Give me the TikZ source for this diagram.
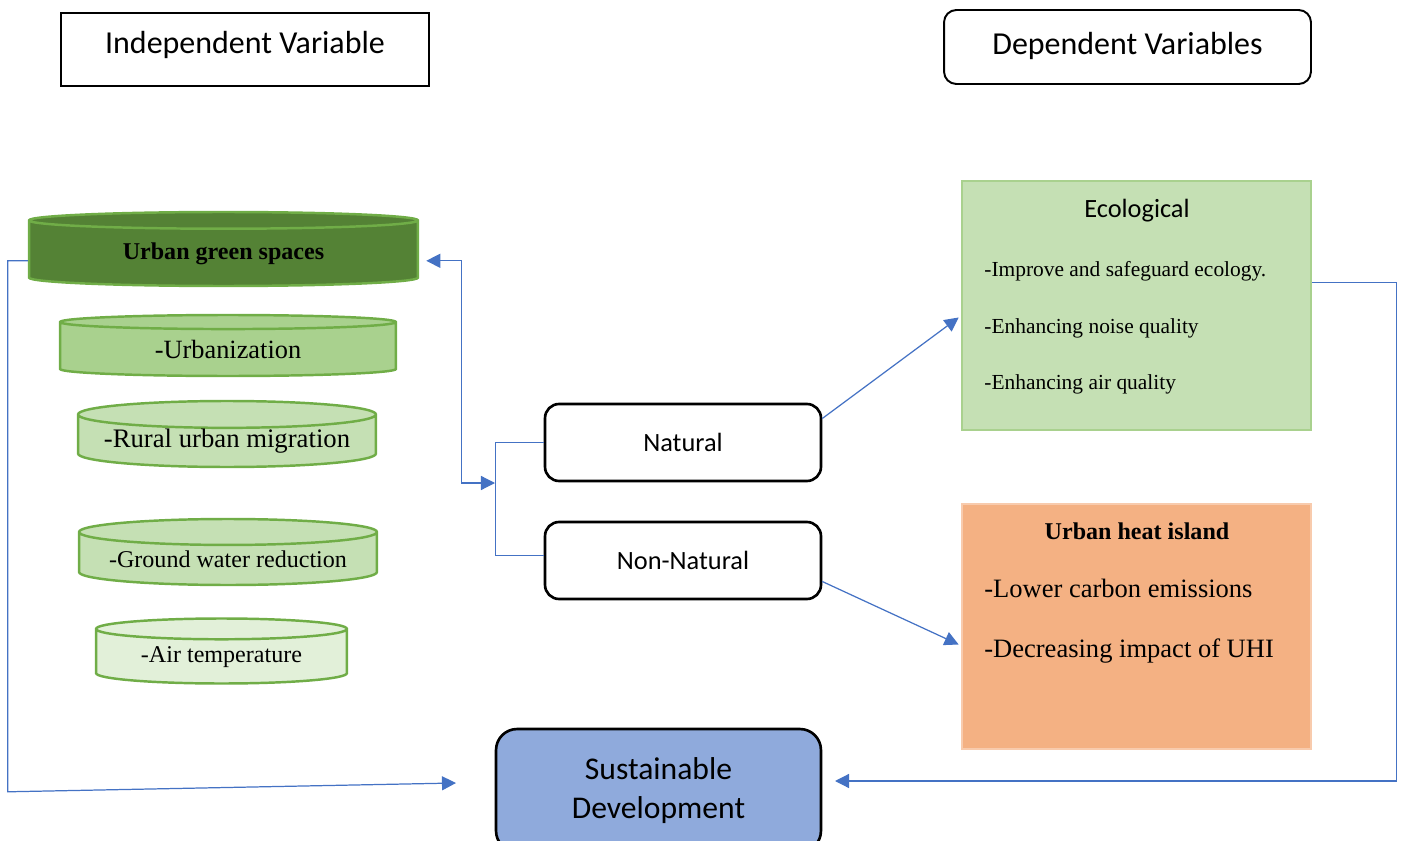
\documentclass[tikz,border=0pt]{standalone}
\usepackage{fontspec}
\setmainfont{Liberation Serif}
\newfontfamily\calibri{Carlito}
\usetikzlibrary{calc,shapes.geometric,positioning,arrows.meta}

\definecolor{linkblue}{HTML}{4472C4}
\definecolor{discline}{HTML}{70AD47}
\definecolor{greenA}{HTML}{548235}
\definecolor{greenB}{HTML}{A9D18E}
\definecolor{greenC}{HTML}{C5E0B4}
\definecolor{greenD}{HTML}{E2F0D9}
\definecolor{ecoline}{HTML}{A9D18E}
\definecolor{heatfill}{HTML}{F4B183}
\definecolor{heatline}{HTML}{F8CBAD}
\definecolor{sdfill}{HTML}{8FAADC}

\begin{document}
\begin{tikzpicture}[x=0.02cm, y=-0.02cm,
      head/.style={draw, line width=1.1pt, font=\calibri\fontsize{18.2}{22}\selectfont,
         minimum width=7.36cm, minimum height=1.46cm, text depth=8.5pt},
      kind/.style={draw, line width=1.5pt, rounded corners=8pt, font=\calibri\fontsize{15}{18}\selectfont,
         minimum width=5.52cm, minimum height=1.54cm},
      disc/.style={cylinder, shape border rotate=90, draw=discline, line width=1.4pt, inner sep=0pt,
         anchor=shape center},
      panel/.style={rectangle, line width=1.6pt, minimum width=6.98cm},
      item/.style={anchor=west, inner sep=0pt},
      link/.style={draw=linkblue, line width=0.7pt},
      >={Triangle[length=8pt,width=8pt]}
   ]
      \useasboundingbox (0,0) rectangle (1403,841);

      % headings
      \node[head] (IV) at (245,49.5) {Independent Variable};
      \node[head, rounded corners=7pt, minimum width=7.34cm, minimum height=1.48cm, text depth=4pt] (DV) at (1127.5,47) {Dependent Variables};

      % independent side
      \node[disc, fill=greenA, minimum width=7.78cm, minimum height=1.48cm, aspect=0.083,
         font=\bfseries\fontsize{13.7}{16}\selectfont] (UGS) at (223.5,249) {Urban green spaces};
      \node[disc, fill=greenB, minimum width=6.72cm, minimum height=1.22cm, aspect=0.096,
         font=\fontsize{15}{17}\selectfont] (URB) at (228,345.5) {-Urbanization};
      \node[disc, fill=greenC, minimum width=5.96cm, minimum height=1.32cm, aspect=0.109,
         font=\fontsize{15.2}{17}\selectfont] (RUM) at (227,434) {-Rural urban migration};
      \node[disc, fill=greenC, minimum width=5.96cm, minimum height=1.32cm, aspect=0.109,
         font=\fontsize{13.7}{16}\selectfont] (GWR) at (228,552) {-Ground water reduction};
      \node[disc, fill=greenD, minimum width=5.02cm, minimum height=1.30cm, aspect=0.129,
         font=\fontsize{13.7}{16}\selectfont] (AT) at (221.5,651) {-Air temperature};

      % middle
      \node[kind] (Nat) at (683,442.5) {Natural};
      \node[kind] (NonNat) at (683,560.5) {Non-Natural};
      \node[draw, line width=1.5pt, rounded corners=12pt, fill=sdfill, align=center,
         minimum width=6.5cm, minimum height=2.46cm,
         font=\calibri\fontsize{18}{22}\selectfont] (SD) at (658.5,790.5) {Sustainable\\Development};

      % dependent side
      \node[panel, draw=ecoline, fill=greenC, minimum height=4.98cm] (Eco) at (1136.5,305.5) {};
      \node[font=\calibri\fontsize{15}{18}\selectfont] at (1137,211) {Ecological};
      \node[item, font=\fontsize{12.2}{14}\selectfont] at (984,271) {-Improve and safeguard ecology.};
      \node[item, font=\fontsize{12.2}{14}\selectfont] at (984,328) {-Enhancing noise quality};
      \node[item, font=\fontsize{12.2}{14}\selectfont] at (984,384) {-Enhancing air quality};

      \node[panel, draw=heatline, fill=heatfill, minimum height=4.9cm] (UHI) at (1136.5,626.5) {};
      \node[font=\bfseries\fontsize{13.7}{16}\selectfont] at (1137,531) {Urban heat island};
      \node[item, font=\fontsize{15.1}{17}\selectfont] at (984,588) {-Lower carbon emissions};
      \node[item, font=\fontsize{15.1}{17}\selectfont] at (984,651) {-Decreasing impact of UHI};

      % connectors
      \coordinate (sdL) at (456,783);
      \coordinate (sdR) at (835,781);
      \coordinate (fork) at (495,483);

      \draw[link,->] ($(UGS.west)+(0,7)$) -- ++(-20,0) -- ++(0,531) -- (sdL);
      \draw[link,<->] ($(UGS.east)+(7,7)$) -- ++(35,0) |- (fork);
      \draw[link] (Nat.west) -- ++(-48,0) |- ($(NonNat.west)+(0,-5)$);
      \draw[link,->] ($(Nat.east)+(0,-24)$) -- ($(Eco.west)+(-2,12)$);
      \draw[link,->] ($(NonNat.east)+(0,21)$) -- ($(UHI.west)+(-2,18)$);
      \draw[link,->] ($(Eco.east)+(0,-23)$) -- ++(84,0) |- (sdR);
   \end{tikzpicture}
\end{document}
